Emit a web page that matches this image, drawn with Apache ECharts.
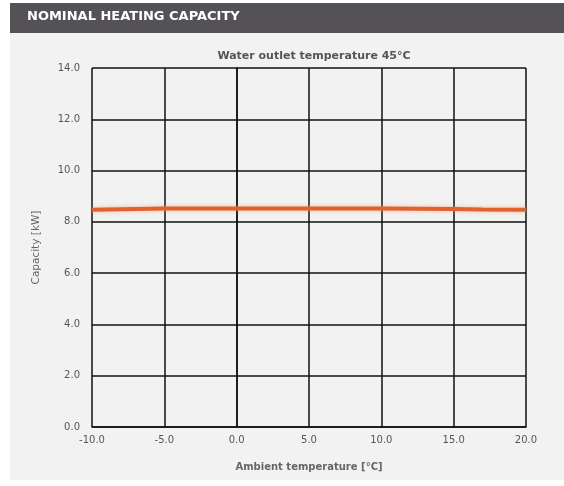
<!DOCTYPE html>
<html><head><meta charset="utf-8">
<script src="https://cdn.jsdelivr.net/npm/echarts@6/dist/echarts.min.js"></script>
<style>html,body{margin:0;padding:0;background:#fff}#c{width:564px;height:486px}</style>
</head><body><div id="c"></div>
<script>
const ambientTemps = [-10, -7, -5, 0, 5, 10, 15, 17, 20];
const capacityKW = [8.47, 8.5, 8.52, 8.52, 8.52, 8.52, 8.5, 8.48, 8.47];
const yTicks = [0, 2, 4, 6, 8, 10, 12, 14];
const xTicks = [-10, -5, 0, 5, 10, 15, 20];

const FONT = '"DejaVu Sans", sans-serif';
const chart = echarts.init(document.getElementById('c'));
chart.setOption({
  animation: false,
  backgroundColor: '#ffffff',
  graphic: [
    {type: 'rect', z: -10, shape: {x: 10, y: 33, width: 554, height: 447}, style: {fill: '#f2f2f2'}},
    {type: 'rect', z: -10, shape: {x: 10, y: 3, width: 554, height: 30}, style: {fill: '#545256'}},
    {type: 'text', left: 27, top: 10, style: {text: 'NOMINAL HEATING CAPACITY', fill: '#ffffff', font: 'bold 13px "DejaVu Sans", sans-serif'}}
  ],
  title: {
    text: 'Water outlet temperature 45°C',
    left: 309, top: 46, textAlign: 'center',
    textStyle: {fontSize: 11, fontWeight: 'bold', color: '#555', fontFamily: FONT}
  },
  grid: {left: 92, right: 38, top: 68, bottom: 59},
  xAxis: {
    type: 'value', min: -10, max: 20, interval: 5,
    name: 'Ambient temperature [°C]', nameLocation: 'middle', nameGap: 35,
    nameTextStyle: {fontSize: 10, fontWeight: 'bold', color: '#666', fontFamily: FONT},
    axisLine: {show: true, lineStyle: {color: '#111', width: 1.5}},
    axisTick: {show: false},
    axisLabel: {color: '#555', fontSize: 10, margin: 8, formatter: v => v.toFixed(1), fontFamily: FONT},
    splitLine: {show: true, lineStyle: {color: '#111', width: 1.5}}
  },
  yAxis: {
    type: 'value', min: 0, max: 14, interval: 2,
    name: 'Capacity [kW]', nameLocation: 'middle', nameGap: 50, nameRotate: 90,
    nameTextStyle: {fontSize: 10.5, color: '#666', fontFamily: FONT},
    axisLine: {show: true, lineStyle: {color: '#111', width: 1.5}},
    axisTick: {show: false},
    axisLabel: {color: '#555', fontSize: 10, margin: 12, formatter: v => v.toFixed(1), fontFamily: FONT},
    splitLine: {show: true, lineStyle: {color: '#111', width: 1.5}}
  },
  series: [{
    type: 'line',
    data: ambientTemps.map((t, i) => [t, capacityKW[i]]),
    showSymbol: false,
    lineStyle: {color: '#e0622e', width: 4, shadowColor: 'rgba(240,150,100,0.6)', shadowBlur: 4},
    z: 5
  }]
});
</script></body></html>
